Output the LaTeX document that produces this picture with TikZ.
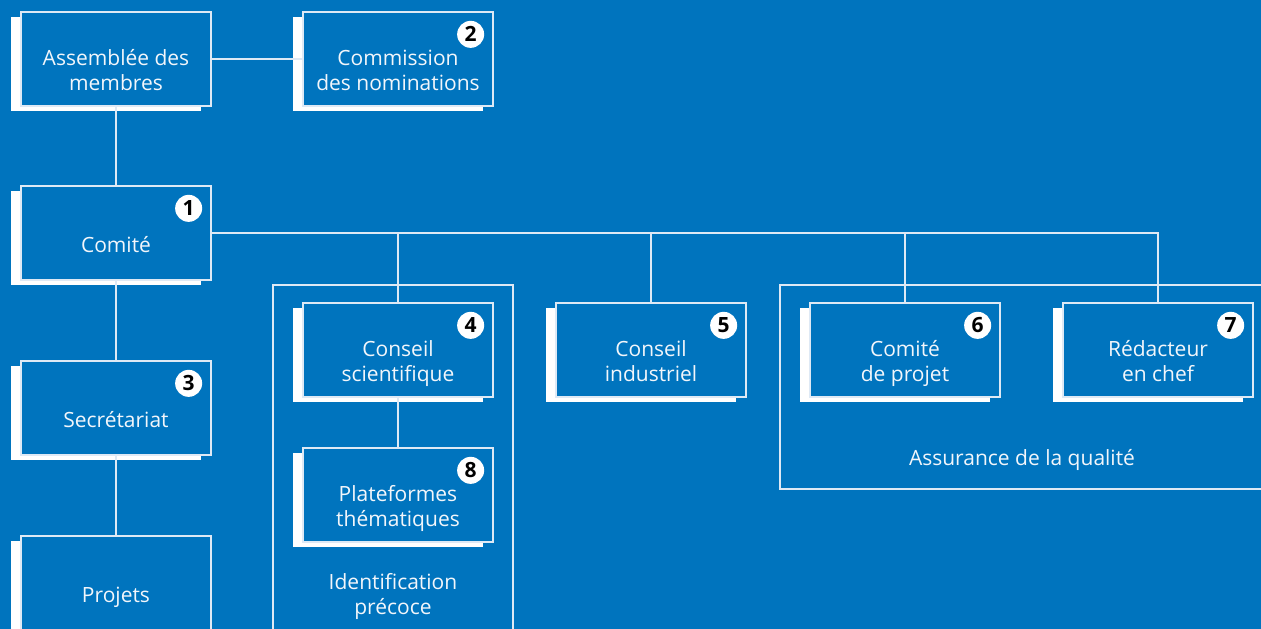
\documentclass[tikz,border=0pt]{standalone}
\usepackage{fontspec}
\setmainfont{Open Sans}
\usetikzlibrary{shadows,calc}
\definecolor{bg}{RGB}{0,116,190}
\definecolor{edge}{RGB}{222,233,245}
\definecolor{txt}{RGB}{242,246,251}
\begin{document}
\begin{tikzpicture}[x=1pt,y=-1pt,
  orgbox/.style={draw=edge, line width=1.3pt, fill=bg, minimum width=190pt, minimum height=94pt, inner sep=0pt,
    general shadow={fill=white, shadow xshift=-10pt, shadow yshift=-5pt}},
  grp/.style={draw=edge, line width=1.8pt, inner sep=0pt},
  conn/.style={draw=edge, line width=1.3pt},
  lbl/.style={text=txt, align=center, inner sep=0pt, font=\fontsize{21}{25}\selectfont},
  badge/.style={circle, fill=white, minimum size=27pt, inner sep=0pt, text=black, font=\bfseries\fontsize{21}{21}\selectfont}
]
\useasboundingbox (0,0) rectangle (1261,629);
\clip (0,0) rectangle (1261,629);
\fill[bg] (0,0) rectangle (1261,629);
% groups
\node[grp, minimum width=240pt, minimum height=360pt] (G1) at (393,465) {};
\node[grp, minimum width=484pt, minimum height=204pt] (G2) at (1022,387) {};
% boxes
\node[orgbox] (A) at (116,59) {};
\node[orgbox] (B) at (398,59) {};
\node[orgbox] (C) at (116,233) {};
\node[orgbox] (S) at (116,408) {};
\node[orgbox] (P) at (116,583) {};
\node[orgbox] (CS) at (398,350) {};
\node[orgbox] (PT) at (398,495) {};
\node[orgbox] (CI) at (651,350) {};
\node[orgbox] (CP) at (905,350) {};
\node[orgbox] (R) at (1158,350) {};
% connectors
\draw[conn] (A.east) -- (B.west);
\draw[conn] (A.south) -- (C.north);
\draw[conn] (C.south) -- (S.north);
\draw[conn] (S.south) -- (P.north);
\draw[conn] (C.east) -| (R.north);
\draw[conn] (CS.north) -- (CS.north |- C.east);
\draw[conn] (CI.north) -- (CI.north |- C.east);
\draw[conn] (CP.north) -- (CP.north |- C.east);
\draw[conn] (CS.south) -- (PT.north);
% texts
\node[lbl] (tA) at ($(A.center)+(0,14)$) {\strut Assemblée des\\\strut membres};
\node[lbl] (tB) at ($(B.center)+(0,14)$) {\strut Commission\\\strut des nominations};
\node[lbl] (tC) at ($(C.center)+(0,14)$) {\strut Comité};
\node[lbl] (tS) at ($(S.center)+(0,14)$) {\strut Secrétariat};
\node[lbl] (tP) at ($(P.center)+(0,14)$) {\strut Projets};
\node[lbl] (tCS) at ($(CS.center)+(0,14)$) {\strut Conseil\\\strut scientifique};
\node[lbl] (tPT) at ($(PT.center)+(0,14)$) {\strut Plateformes\\\strut thématiques};
\node[lbl] (tCI) at ($(CI.center)+(0,14)$) {\strut Conseil\\\strut industriel};
\node[lbl] (tCP) at ($(CP.center)+(0,14)$) {\strut Comité\\\strut de projet};
\node[lbl] (tR) at ($(R.center)+(0,14)$) {\strut Rédacteur\\\strut en chef};
\node[lbl] (tG1) at (393,597) {\strut Identification\\\strut précoce};
\node[lbl] (tG2) at (1022,460) {\strut Assurance de la qualité};
% badges
\node[badge] (b1) at ($(C.north east)+(-23,23)$) {1};
\node[badge] (b2) at ($(B.north east)+(-23,23)$) {2};
\node[badge] (b3) at ($(S.north east)+(-23,23)$) {3};
\node[badge] (b4) at ($(CS.north east)+(-23,23)$) {4};
\node[badge] (b5) at ($(CI.north east)+(-23,23)$) {5};
\node[badge] (b6) at ($(CP.north east)+(-23,23)$) {6};
\node[badge] (b7) at ($(R.north east)+(-23,23)$) {7};
\node[badge] (b8) at ($(PT.north east)+(-23,23)$) {8};
\end{tikzpicture}
\end{document}
